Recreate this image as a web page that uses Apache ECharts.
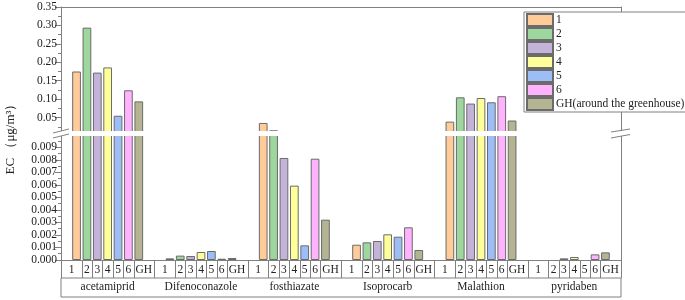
<!DOCTYPE html>
<html>
<head>
<meta charset="utf-8">
<script src="https://cdn.jsdelivr.net/npm/echarts@6/dist/echarts.min.js"></script>
<style>
  html, body { margin: 0; padding: 0; background: #fff; }
  #chart { width: 685px; height: 300px; }
</style>
</head>
<body>
<div id="chart"></div>
<script>
// pesticides (groups) and sampling sites
const pesticides = ['acetamiprid', 'Difenoconazole', 'fosthiazate', 'Isoprocarb', 'Malathion', 'pyridaben']
const siteLabels = ['1', '2', '3', '4', '5', '6', 'GH']
const siteNames = ['1', '2', '3', '4', '5', '6', 'GH(around the greenhouse)']

// EC (ug/m3) per site, ordered like pesticides
const site1 = [0.175, 0.00013, 0.0354, 0.00122, 0.039, 0]
const site2 = [0.294, 0.00035, 0.0155, 0.00141, 0.105, 0]
const site3 = [0.172, 0.00032, 0.00815, 0.00152, 0.088, 0.00013]
const site4 = [0.186, 0.00064, 0.00594, 0.00205, 0.103, 0.00024]
const site5 = [0.055, 0.00072, 0.00117, 0.00186, 0.0915, 0]
const site6 = [0.124, 0.0001, 0.00809, 0.00261, 0.108, 0.00045]
const siteGH = [0.094, 0.00016, 0.00322, 0.0008, 0.042, 0.00061]
const siteValues = [site1, site2, site3, site4, site5, site6, siteGH]

// tick labels
const upperTicks = [0.05, 0.10, 0.15, 0.20, 0.25, 0.30, 0.35]
const lowerTicks = [0, 0.001, 0.002, 0.003, 0.004, 0.005, 0.006, 0.007, 0.008, 0.009]

const colors = ['#ffcc99', '#9dd79d', '#c4b3d8', '#ffff99', '#9dbdf7', '#ffb3ff', '#b4b492']
const FONT = 'Liberation Serif'
const AXIS = '#808080'

// the two panels overlap a little; a white band hides the seam (axis break)
const upperMin = 0.00274
const upperMax = 0.35
const lowerMax = 0.010224

// each pesticide gets 9 slots: an empty one, the 7 sites, another empty one
const SLOTS = 9
const slotIds = []
pesticides.forEach(p => {
  for (let k = 0; k < SLOTS; k++) slotIds.push(p + '-' + k)
})

function slotData(values, siteIdx, minVal) {
  const arr = new Array(slotIds.length).fill(null)
  values.forEach((v, g) => {
    if (v > 0 && (minVal == null || v > minVal)) arr[g * SLOTS + siteIdx + 1] = v
  })
  return arr
}

const minorUpper = upperTicks.map(v => v - 0.025)
const minorLower = lowerTicks.map(v => v + 0.0005)

const chart = echarts.init(document.getElementById('chart'))

const barBase = {
  type: 'bar',
  barGap: '-100%',
  barCategoryGap: '16%',
  animation: false
}

const series = []
siteValues.forEach((vals, i) => {
  const itemStyle = { color: colors[i], borderColor: '#6b6b6b', borderWidth: 1 }
  series.push({ ...barBase, name: siteNames[i], xAxisIndex: 0, yAxisIndex: 0, itemStyle, data: slotData(vals, i, upperMin) })
  series.push({ ...barBase, name: siteNames[i], xAxisIndex: 1, yAxisIndex: 3, itemStyle, data: slotData(vals, i, null) })
})

const labelText = { fontFamily: FONT, fontSize: 11.5, color: '#222' }
const breakLine = { stroke: AXIS, lineWidth: 1 }

const baseGraphic = [
  {
    id: 'ytitle', type: 'text', x: 11, y: 136, rotation: Math.PI / 2,
    style: { text: 'EC （μg/m³）', font: '13px "Liberation Serif"', fill: '#222', align: 'center', verticalAlign: 'middle' }
  },
  // white band of the axis break
  { id: 'band', type: 'rect', z: 50, shape: { x: 45, y: 131, width: 600, height: 5 }, style: { fill: '#fff' } },
  { id: 'b1', type: 'line', z: 51, shape: { x1: 53, y1: 133, x2: 69, y2: 129 }, style: breakLine },
  { id: 'b2', type: 'line', z: 51, shape: { x1: 53, y1: 138, x2: 69, y2: 134 }, style: breakLine },
  { id: 'b3', type: 'line', z: 51, shape: { x1: 611, y1: 132, x2: 630, y2: 129 }, style: breakLine },
  { id: 'b4', type: 'line', z: 51, shape: { x1: 611, y1: 138, x2: 630, y2: 134.5 }, style: breakLine }
]

const option = {
  animation: false,
  textStyle: { fontFamily: FONT },
  grid: [
    { left: 61, width: 560, top: 7, height: 128 },
    { left: 61, width: 560, top: 132, height: 128 },
    { left: 61, width: 560, top: 278, height: 19, show: true, borderColor: AXIS, borderWidth: 1 }
  ],
  legend: {
    data: siteNames,
    orient: 'vertical',
    left: 524,
    top: 12,
    icon: 'rect',
    itemWidth: 26,
    itemHeight: 12,
    itemGap: 0,
    padding: [1, 3, 1, 2],
    borderColor: AXIS,
    borderWidth: 1,
    backgroundColor: '#fff',
    selectedMode: false,
    textStyle: { ...labelText, lineHeight: 12, padding: [0, 0, 0, -2] }
  },
  xAxis: [
    {
      gridIndex: 0, type: 'category', data: slotIds, position: 'top',
      axisLine: { lineStyle: { color: AXIS } }, axisTick: { show: false }, axisLabel: { show: false }
    },
    {
      gridIndex: 1, type: 'category', data: slotIds, position: 'bottom',
      axisLine: { lineStyle: { color: AXIS } },
      axisTick: { show: false },
      axisLabel: {
        ...labelText,
        margin: 4,
        interval: (idx) => idx % SLOTS >= 1 && idx % SLOTS <= 7,
        formatter: (value, idx) => {
          const k = idx % SLOTS
          if (k === 1) return '{l|1}'
          if (k === 7) return '{r|GH}'
          return siteLabels[k - 1]
        },
        rich: {
          l: { ...labelText, padding: [0, 10, 0, 0] },
          r: { ...labelText, padding: [0, 0, 0, 10] }
        }
      }
    },
    {
      gridIndex: 2, type: 'category', data: pesticides, position: 'bottom',
      axisLine: { show: false },
      axisTick: { inside: true, length: 19, interval: 0, lineStyle: { color: AXIS } },
      axisLabel: { ...labelText, inside: true, margin: 4, interval: 0 }
    }
  ],
  yAxis: [
    {
      gridIndex: 0, type: 'value', position: 'left', min: upperMin, max: upperMax,
      splitLine: { show: false },
      axisLine: { show: true, lineStyle: { color: AXIS } },
      axisTick: { show: true, length: 6, customValues: upperTicks, lineStyle: { color: AXIS } },
      axisLabel: { ...labelText, margin: 4, customValues: upperTicks, formatter: v => v.toFixed(2) }
    },
    {
      gridIndex: 0, type: 'value', position: 'left', min: upperMin, max: upperMax,
      splitLine: { show: false }, axisLine: { show: false }, axisLabel: { show: false },
      axisTick: { show: true, length: 3, customValues: minorUpper, lineStyle: { color: AXIS } }
    },
    {
      gridIndex: 0, type: 'value', position: 'right', min: upperMin, max: upperMax,
      splitLine: { show: false }, axisTick: { show: false }, axisLabel: { show: false },
      axisLine: { show: true, lineStyle: { color: AXIS } }
    },
    {
      gridIndex: 1, type: 'value', position: 'left', min: 0, max: lowerMax,
      splitLine: { show: false },
      axisLine: { show: true, lineStyle: { color: AXIS } },
      axisTick: { show: true, length: 6, customValues: lowerTicks, lineStyle: { color: AXIS } },
      axisLabel: { ...labelText, margin: 4, customValues: lowerTicks, formatter: v => v.toFixed(3) }
    },
    {
      gridIndex: 1, type: 'value', position: 'left', min: 0, max: lowerMax,
      splitLine: { show: false }, axisLine: { show: false }, axisLabel: { show: false },
      axisTick: { show: true, length: 3, customValues: minorLower, lineStyle: { color: AXIS } }
    },
    {
      gridIndex: 1, type: 'value', position: 'right', min: 0, max: lowerMax,
      splitLine: { show: false }, axisTick: { show: false }, axisLabel: { show: false },
      axisLine: { show: true, lineStyle: { color: AXIS } }
    },
    { gridIndex: 2, type: 'value', show: false }
  ],
  graphic: baseGraphic,
  series
}

chart.setOption(option)

// cell dividers of the site-label row, placed from the category axis itself
const x0 = chart.convertToPixel({ xAxisIndex: 1 }, 0)
const band = chart.convertToPixel({ xAxisIndex: 1 }, 1) - x0
const yBase = chart.convertToPixel({ yAxisIndex: 3 }, 0)
const cellLines = []
for (let i = 0; i <= slotIds.length; i++) {
  const k = i % SLOTS
  if (k === 1 || k === 8) continue
  const x = Math.round(x0 - band / 2 + i * band) + 0.5
  cellLines.push({
    id: 'cell-' + i, type: 'line', silent: true,
    shape: { x1: x, y1: yBase, x2: x, y2: yBase + 18 },
    style: { stroke: AXIS, lineWidth: 1 }
  })
}
chart.setOption({ graphic: baseGraphic.concat(cellLines) })
</script>
</body>
</html>
